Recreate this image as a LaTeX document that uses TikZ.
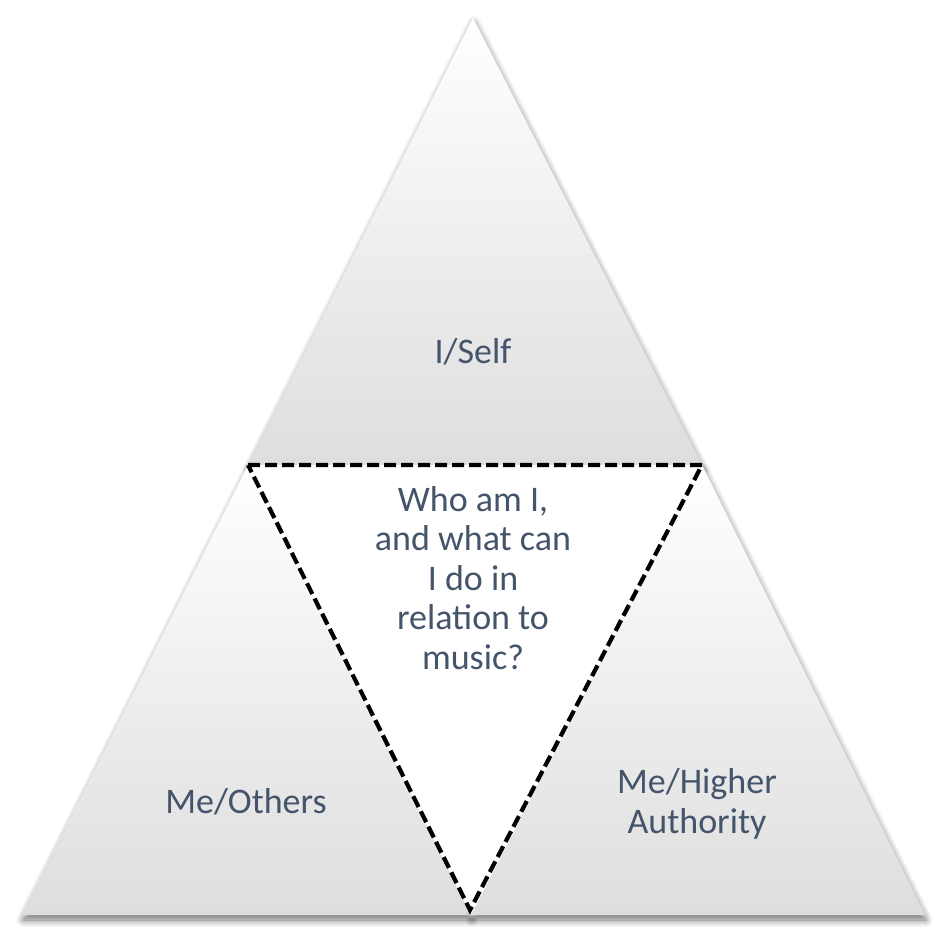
\documentclass[tikz,border=0pt]{standalone}
\usepackage{fontspec}
\setmainfont{Carlito}
\usetikzlibrary{shadows.blur}
\definecolor{txt}{HTML}{44546A}
\tikzset{
  tri/.style={top color=white, bottom color=black!13, draw=none,
    blur shadow={shadow xshift=1pt, shadow yshift=-5pt, shadow blur steps=10, shadow blur radius=7pt, shadow opacity=55}},
  lab/.style={text=txt, font=\fontsize{36}{39.5}\selectfont, align=center},
  dashtri/.style={draw=black, line width=4.2pt, dash pattern=on 12pt off 5pt, line join=miter}
}
\begin{document}
\begin{tikzpicture}[x=1pt,y=-1pt]
\useasboundingbox (0,0) rectangle (945,945);
\coordinate (A) at (473,18);
\coordinate (L) at (22,915);
\coordinate (R) at (925,915);
\coordinate (ML) at (248,465);
\coordinate (MR) at (702,465);
\coordinate (MB) at (471,915);
% three triangles
\path[tri] (A) -- (MR) -- (ML) -- cycle;
\path[tri] (ML) -- (MB) -- (L) -- cycle;
\path[tri] (MR) -- (R) -- (MB) -- cycle;
% inner inverted triangle
\fill[white] (ML) -- (MR) -- (MB) -- cycle;
\draw[dashtri] (ML) -- (MR) -- (470,910) -- cycle;
% labels
\node[lab] (self) at (473,352) {I/Self};
\node[lab] (others) at (246,802) {Me/Others};
\node[lab] (higher) at (697,804) {Me/Higher\\Authority};
\node[lab] (center) at (473,578) {Who am I,\\and what can\\I do in\\relation to\\music?};
\end{tikzpicture}
\end{document}
